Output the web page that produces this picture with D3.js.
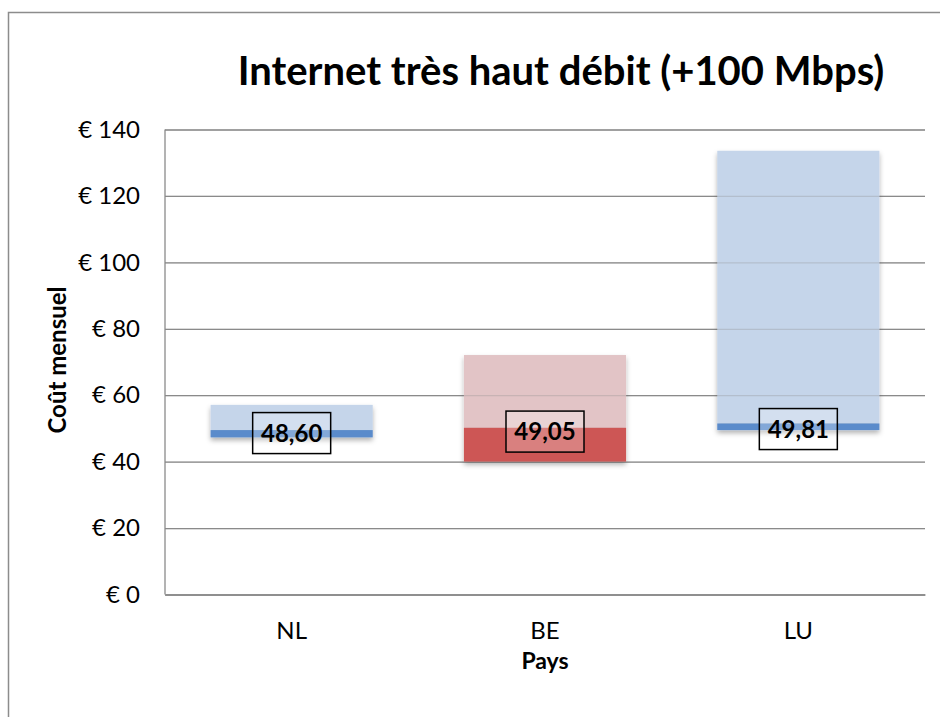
<!DOCTYPE html>
<html>
<head>
<meta charset="utf-8">
<script src="https://cdn.jsdelivr.net/npm/d3@7"></script>
<style>
  body { margin: 0; background: #fff; }
  svg { display: block; font-family: Lato, "Open Sans", sans-serif; }
</style>
</head>
<body>
<svg id="chart" width="940" height="717"></svg>
<script>
// data
var categories = ["NL", "BE", "LU"];
var lowValues = [47.3, 40.0, 49.5];     // bottom of the dark segment
var darkTopValues = [49.5, 50.2, 51.5]; // top of the dark segment
var highValues = [57.1, 72.1, 133.6];   // top of the pale bar
var avgValues = [48.60, 49.05, 49.81];  // labelled value
var paleColors = ["#c5d5ea", "#e2c4c6", "#c5d5ea"];
var darkColors = ["#5a8bcb", "#cd5654", "#5a8bcb"];
var yTicks = [0, 20, 40, 60, 80, 100, 120, 140];

var rows = categories.map(function (c, i) {
	return { cat: c, low: lowValues[i], mid: darkTopValues[i], high: highValues[i],
		avg: avgValues[i], pale: paleColors[i], dark: darkColors[i] };
});

var svg = d3.select("#chart");
var margin = { left: 165, right: 15, top: 129.5, bottom: 122.5 };
var width = 940 - margin.left - margin.right,
	height = 717 - margin.top - margin.bottom;

// outer chart frame
svg.append("rect")
	.attr("x", 8.5).attr("y", 12.5)
	.attr("width", 960).attr("height", 760)
	.attr("fill", "none").attr("stroke", "#8c8c8c").attr("stroke-width", 1.5);

var defs = svg.append("defs");
var shadow = defs.append("filter").attr("id", "shadow")
	.attr("x", "-10%").attr("y", "-10%").attr("width", "120%").attr("height", "130%");
shadow.append("feDropShadow")
	.attr("dx", 0).attr("dy", 3).attr("stdDeviation", 2.5)
	.attr("flood-color", "#000").attr("flood-opacity", 0.3);

var g = svg.append("g").attr("transform", "translate(" + margin.left + "," + margin.top + ")");

var x = d3.scaleBand().domain(categories).range([0, width]).paddingInner(0.36).paddingOuter(0.18);
var y = d3.scaleLinear().domain([0, 140]).range([height, 0]);

function drawGrid(opacity) {
	var grid = g.append("g").attr("class", "grid")
		.call(d3.axisLeft(y).tickValues(yTicks).tickSize(-width).tickFormat(""));
	grid.select(".domain").remove();
	grid.selectAll("line").attr("stroke", "#8a8a8a").attr("stroke-width", 1.3)
		.attr("stroke-opacity", opacity);
}
drawGrid(1);

// y axis labels
var yAxis = g.append("g")
	.call(d3.axisLeft(y).tickValues(yTicks).tickSize(0).tickPadding(25)
		.tickFormat(function (d) { return "€ " + d; }));
yAxis.select(".domain").remove();
yAxis.selectAll("text").attr("font-size", 24).attr("fill", "#000")
	.attr("font-family", "Lato, sans-serif");

// x axis labels
var xAxis = g.append("g").attr("transform", "translate(0," + height + ")")
	.call(d3.axisBottom(x).tickSize(0).tickPadding(27));
xAxis.select(".domain").attr("stroke", "#8a8a8a").attr("stroke-width", 1.3);
xAxis.selectAll("text").attr("font-size", 24).attr("fill", "#000")
	.attr("font-family", "Lato, sans-serif");

// pale range bars and dark segments
var bars = g.append("g").attr("filter", "url(#shadow)");
bars.selectAll("rect.pale").data(rows).enter().append("rect")
	.attr("class", "pale")
	.attr("x", function (d) { return x(d.cat); })
	.attr("width", x.bandwidth())
	.attr("y", function (d) { return y(d.high); })
	.attr("height", function (d) { return y(d.mid) - y(d.high); })
	.attr("fill", function (d) { return d.pale; });

bars.selectAll("rect.dark").data(rows).enter().append("rect")
	.attr("class", "dark")
	.attr("x", function (d) { return x(d.cat); })
	.attr("width", x.bandwidth())
	.attr("y", function (d) { return y(d.mid); })
	.attr("height", function (d) { return y(d.low) - y(d.mid); })
	.attr("fill", function (d) { return d.dark; });

// gridlines faintly visible through the bars
drawGrid(0.3);

// left spine
g.append("line").attr("x1", 0).attr("x2", 0).attr("y1", 0).attr("y2", height)
	.attr("stroke", "#8a8a8a").attr("stroke-width", 1.3);

// value labels
var fmt = function (v) { return d3.format(".2f")(v).replace(".", ","); };
var labels = g.append("g").selectAll("g").data(rows).enter().append("g")
	.attr("transform", function (d) {
		return "translate(" + (x(d.cat) + x.bandwidth() / 2) + "," + y(d.avg) + ")";
	});
labels.append("rect")
	.attr("x", -39).attr("y", -20.5).attr("width", 78).attr("height", 41)
	.attr("fill", "#fff").attr("fill-opacity", 0.25)
	.attr("stroke", "#000").attr("stroke-width", 1.5);
labels.append("text")
	.attr("text-anchor", "middle").attr("dy", "0.36em")
	.attr("font-size", 24).attr("font-weight", "bold")
	.text(function (d) { return fmt(d.avg); });

// title
svg.append("text")
	.attr("x", 561).attr("y", 85)
	.attr("text-anchor", "middle")
	.attr("font-size", 40).attr("font-weight", "bold")
	.text("Internet très haut débit (+100 Mbps)");

// axis titles
svg.append("text")
	.attr("transform", "translate(66," + 360 + ") rotate(-90)")
	.attr("text-anchor", "middle")
	.attr("font-size", 24).attr("font-weight", "bold")
	.text("Coût mensuel");

svg.append("text")
	.attr("x", 545).attr("y", 669)
	.attr("text-anchor", "middle")
	.attr("font-size", 23).attr("font-weight", "bold")
	.text("Pays");
</script>
</body>
</html>
